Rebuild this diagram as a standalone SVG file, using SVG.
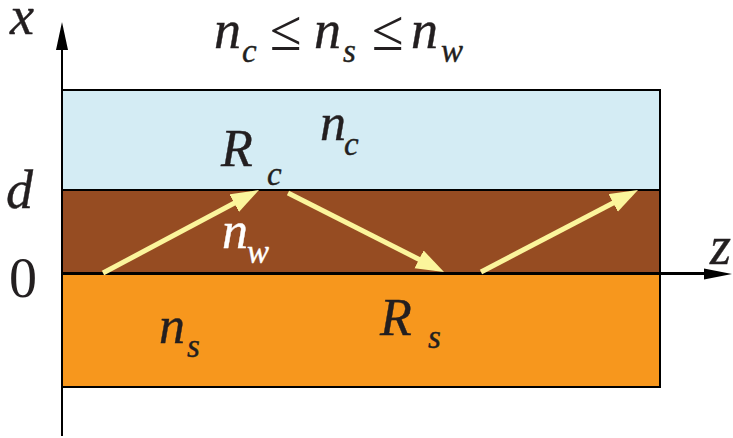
<svg xmlns="http://www.w3.org/2000/svg" width="733" height="438" viewBox="0 0 733 438">
<style>
.m{font-family:"Liberation Serif","DejaVu Serif",serif;font-style:italic;fill:#231f20;stroke:#231f20;stroke-width:0.4}
.u{font-family:"Liberation Serif","DejaVu Serif",serif;fill:#231f20}
.big{font-size:54px}
.mid{font-size:52px}
.sub{font-size:33px}
.le{font-size:58px}
.w{fill:#ffffff;stroke:#ffffff}
.ray{stroke:#fbf59c;stroke-width:5;fill:none;marker-end:url(#ah)}
.ax{stroke:#000;stroke-width:2;fill:none}
</style>
<defs>
<marker id="ah" markerUnits="userSpaceOnUse" markerWidth="30" markerHeight="22" refX="20" refY="10" orient="auto">
<path d="M0,0 L28,10 L0,20 z" fill="#fbf59c"/>
</marker>
</defs>
<g id="layers">
<rect id="cover" x="62" y="90" width="598" height="100" fill="#d4ecf4" stroke="#000" stroke-width="2"/>
<rect id="film" x="62" y="190" width="598" height="83" fill="#964c22" stroke="#000" stroke-width="2"/>
<rect id="substrate" x="62" y="274" width="598" height="113" fill="#f7971d" stroke="#000" stroke-width="2"/>
</g>
<g id="axes">
<line class="ax" x1="62" y1="436" x2="62" y2="48"/>
<polygon points="62,22 56,50 68,50" fill="#000"/>
<line x1="62" y1="273.5" x2="706" y2="273.5" stroke="#000" stroke-width="3"/>
<polygon points="732,274 704,268.5 704,279.5" fill="#000"/>
</g>
<g id="connectors">
<line class="ray" x1="103" y1="273" x2="251.9" y2="193.8"/>
<line class="ray" x1="288" y1="193" x2="436.9" y2="268.4"/>
<line class="ray" x1="481" y1="272" x2="630.9" y2="193.7"/>
</g>
<g id="labels">
<text class="m big" x="10" y="34">x</text>
<text class="m big" x="6" y="208">d</text>
<text class="u big" x="9" y="297" style="font-size:56px">0</text>
<text class="m big" x="710" y="264">z</text>
<g id="title">
<text class="m big" x="214" y="48">n</text>
<text class="m sub" x="242" y="62">c</text>
<text class="u le" x="270" y="50">≤</text>
<text class="m big" x="314" y="48">n</text>
<text class="m sub" x="343" y="62">s</text>
<text class="u le" x="372" y="50">≤</text>
<text class="m big" x="411" y="48">n</text>
<text class="m sub" x="441" y="62">w</text>
</g>
<g id="label-nc">
<text class="m mid" x="320" y="140">n</text>
<text class="m sub" x="344" y="155">c</text>
</g>
<g id="label-Rc">
<text class="m mid" x="221" y="166">R</text>
<text class="m sub" x="267" y="185">c</text>
</g>
<g id="label-nw">
<text class="m mid w" x="222" y="248">n</text>
<text class="m sub w" x="247" y="263">w</text>
</g>
<g id="label-ns">
<text class="m mid" x="159" y="343">n</text>
<text class="m sub" x="187" y="357">s</text>
</g>
<g id="label-Rs">
<text class="m mid" x="380" y="335">R</text>
<text class="m sub" x="428" y="348">s</text>
</g>
</g>
</svg>
